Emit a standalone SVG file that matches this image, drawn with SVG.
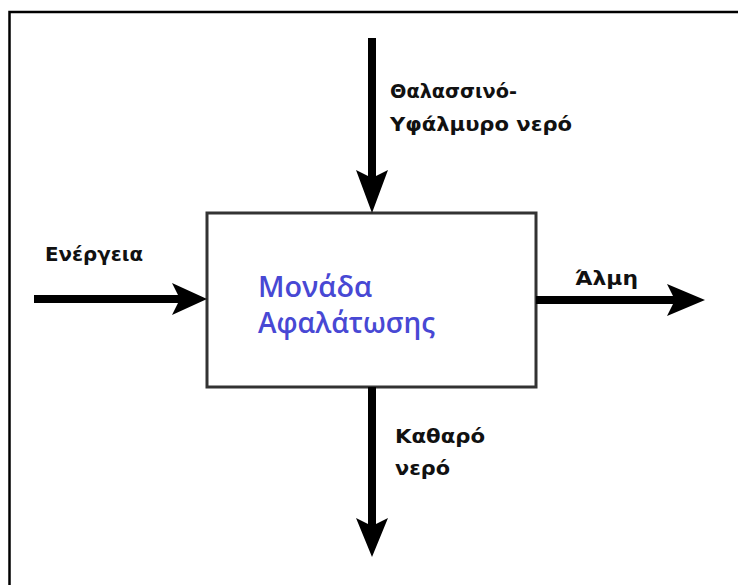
<svg xmlns="http://www.w3.org/2000/svg" width="738" height="585" viewBox="0 0 738 585">
<style>
.lbl{font-family:"DejaVu Sans","Noto Sans",sans-serif;font-weight:bold;font-size:19.5px;fill:#111}
.main{font-family:"Open Sans","Noto Sans","DejaVu Sans",sans-serif;font-weight:600;font-size:28px;fill:#4848d4}
.shaft{stroke:#000;stroke-width:8;fill:none}
.head{fill:#000}
</style>
<rect width="738" height="585" fill="#fff"/>
<g id="frame"><path d="M9.5 585 V12 H738" fill="none" stroke="#000" stroke-width="2.5"/></g>
<g id="unit">
<rect x="207" y="213" width="329" height="174" fill="#fff" stroke="#333" stroke-width="3"/>
<text class="main" x="258" y="297" textLength="114" lengthAdjust="spacingAndGlyphs">Μονάδα</text>
<text class="main" x="258" y="333" textLength="177" lengthAdjust="spacingAndGlyphs">Αφαλάτωσης</text>
</g>
<g id="connectors">
<g id="in-water">
<line class="shaft" x1="372" y1="38" x2="372" y2="180"/>
<polygon class="head" points="356,170 372,178 388,170 372,213"/>
</g>
<g id="in-energy">
<line class="shaft" x1="34" y1="299" x2="180" y2="299"/>
<polygon class="head" points="172,283 180,299 172,315 207,299"/>
</g>
<g id="out-brine">
<line class="shaft" x1="536" y1="300" x2="675" y2="300"/>
<polygon class="head" points="667,284 675,300 667,316 705,300"/>
</g>
<g id="out-clean">
<line class="shaft" x1="372" y1="387" x2="372" y2="526"/>
<polygon class="head" points="356,518 372,526 388,518 372,557"/>
</g>
</g>
<g id="labels">
<text class="lbl" x="390" y="98" textLength="127" lengthAdjust="spacingAndGlyphs">Θαλασσινό-</text>
<text class="lbl" x="390" y="131" textLength="182" lengthAdjust="spacingAndGlyphs">Υφάλμυρο νερό</text>
<text class="lbl" x="45" y="261" textLength="98" lengthAdjust="spacingAndGlyphs">Ενέργεια</text>
<text class="lbl" x="575" y="285" textLength="63" lengthAdjust="spacingAndGlyphs">Άλμη</text>
<text class="lbl" x="395" y="443" textLength="90" lengthAdjust="spacingAndGlyphs">Καθαρό</text>
<text class="lbl" x="395" y="475" textLength="55" lengthAdjust="spacingAndGlyphs">νερό</text>
</g>
</svg>
